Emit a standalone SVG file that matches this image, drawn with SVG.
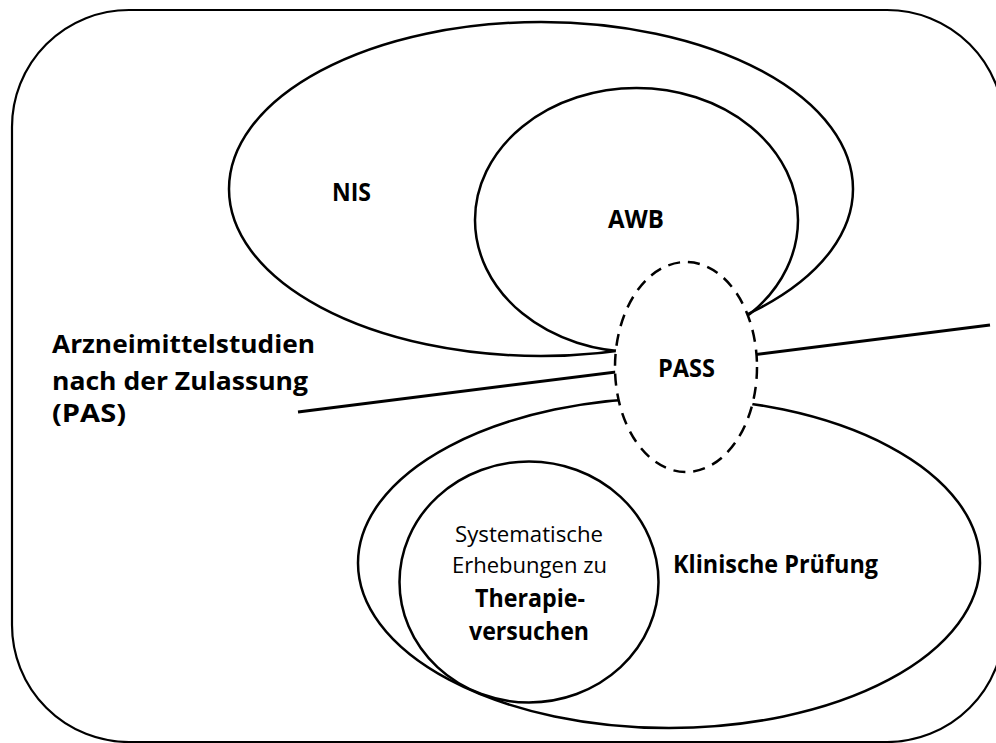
<svg xmlns="http://www.w3.org/2000/svg" width="996" height="743" viewBox="0 0 996 743">
  <style>
    .shape { fill: none; stroke: #000; stroke-width: 2.5; }
    .frame { fill: none; stroke: #000; stroke-width: 2.2; }
    .dashed { fill: #fff; stroke: #000; stroke-width: 2.5; stroke-dasharray: 12 8; }
    .link { fill: none; stroke: #000; stroke-width: 3; }
    text { font-family: "Open Sans", "Noto Sans", "Liberation Sans", sans-serif; fill: #000; }
    .big { font-size: 25px; font-weight: 700; }
    .mid { font-size: 24.5px; font-weight: 700; }
    .small { font-size: 21.5px; font-weight: 400; }
  </style>

  <!-- outer frame -->
  <g id="frame">
    <rect class="frame" x="12" y="10" width="992" height="732" rx="117" ry="117"/>
  </g>

  <!-- NIS -->
  <g id="nis">
    <ellipse class="shape" cx="541" cy="189" rx="312" ry="167"/>
    <text class="big" x="332" y="201" textLength="39" lengthAdjust="spacingAndGlyphs">NIS</text>
  </g>

  <!-- AWB -->
  <g id="awb">
    <ellipse class="shape" cx="636.5" cy="220" rx="161.5" ry="132"/>
    <text class="big" x="608" y="228" textLength="56" lengthAdjust="spacingAndGlyphs">AWB</text>
  </g>

  <!-- Klinische Prüfung -->
  <g id="klinische-pruefung">
    <ellipse class="shape" cx="669" cy="563" rx="311" ry="165"/>
    <text class="mid" x="673" y="573" textLength="205" lengthAdjust="spacingAndGlyphs">Klinische Prüfung</text>
  </g>

  <!-- Therapieversuche -->
  <g id="therapieversuche">
    <ellipse class="shape" cx="529" cy="582" rx="129.5" ry="120.5"/>
    <text class="small" x="455" y="542" textLength="148" lengthAdjust="spacingAndGlyphs">Systematische</text>
    <text class="small" x="452" y="573" textLength="155" lengthAdjust="spacingAndGlyphs">Erhebungen zu</text>
    <text class="mid" x="475" y="607" textLength="110" lengthAdjust="spacingAndGlyphs">Therapie-</text>
    <text class="mid" x="469" y="640" textLength="120" lengthAdjust="spacingAndGlyphs">versuchen</text>
  </g>

  <!-- PAS label -->
  <g id="pas">
    <text class="big" x="52" y="353" textLength="263" lengthAdjust="spacingAndGlyphs">Arzneimittelstudien</text>
    <text class="big" x="52" y="390" textLength="256" lengthAdjust="spacingAndGlyphs">nach der Zulassung</text>
    <text class="big" x="52" y="422" textLength="74" lengthAdjust="spacingAndGlyphs">(PAS)</text>
  </g>

  <!-- connectors -->
  <g id="connectors">
    <line class="link" x1="298" y1="412" x2="990" y2="325"/>
  </g>

  <!-- PASS (drawn last, white fill hides what passes beneath) -->
  <g id="pass">
    <ellipse class="dashed" cx="686" cy="367" rx="71" ry="105"/>
    <text class="big" x="658" y="377" textLength="57" lengthAdjust="spacingAndGlyphs">PASS</text>
  </g>
</svg>
